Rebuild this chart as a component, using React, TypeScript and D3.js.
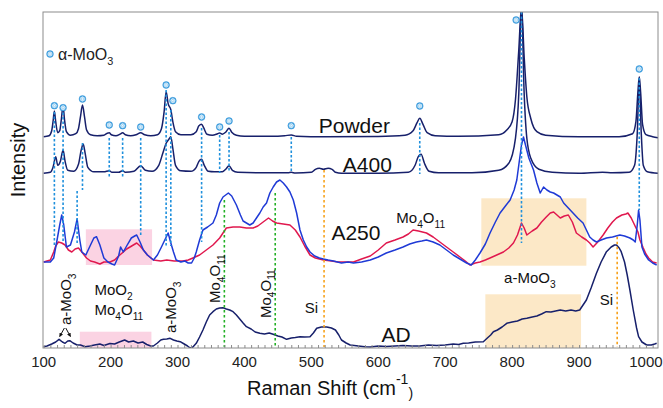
import * as d3 from 'd3';
import * as React from 'react';

// wavenumber (cm-1), intensity above each trace's own baseline (a.u.)
const powder: [number, number][] = [
  [100, 0], [108, 10], [112, 60], [114, 150], [116, 257], [118, 150], [121, 40], [124, 60], [126, 150],
  [129, 307], [131, 180], [134, 50], [140, 15], [148, 30], [152, 80], [155, 200], [158, 317], [161, 200],
  [164, 70], [170, 20], [180, 10], [190, 15], [195, 35], [198, 40], [201, 20], [208, 10], [214, 25],
  [218, 40], [222, 20], [230, 10], [238, 20], [245, 40], [251, 20], [260, 10], [270, 20], [276, 80],
  [280, 250], [283, 450], [286, 330], [290, 270], [293, 150], [297, 50], [305, 20], [320, 20], [328, 50],
  [332, 110], [336, 124], [339, 90], [344, 25], [352, 15], [360, 30], [363, 37], [367, 25], [372, 45],
  [377, 84], [381, 45], [388, 15], [400, 5], [440, 5], [460, 10], [470, 17], [478, 5], [520, 0], [600, 3],
  [640, 15], [652, 60], [658, 140], [662, 184], [667, 120], [673, 40], [685, 10], [720, 5], [780, 20],
  [792, 67], [800, 150], [805, 370], [810, 870], [814, 1300], [818, 800], [822, 400], [828, 180], [837, 50],
  [850, 15], [900, 0], [960, 0], [980, 30], [985, 150], [988, 450], [990, 600], [992, 450], [995, 120],
  [1000, 20], [1010, 0], [1018, -10],
];

const a400: [number, number][] = [
  [100, 0], [110, 10], [114, 60], [118, 166], [121, 80], [125, 120], [129, 233], [132, 120], [136, 30],
  [145, 20], [152, 90], [156, 230], [159, 293], [162, 200], [166, 60], [175, 15], [190, 15], [198, 26],
  [202, 10], [212, 10], [218, 26], [222, 10], [235, 20], [245, 76], [252, 30], [262, 20], [272, 80],
  [278, 200], [283, 300], [287, 340], [290, 366], [293, 250], [297, 80], [305, 25], [320, 20], [328, 60],
  [332, 120], [336, 140], [340, 80], [346, 20], [355, 15], [363, 16], [367, 15], [372, 40], [377, 76],
  [382, 30], [390, 10], [430, 5], [465, 5], [470, 10], [476, 3], [500, 10], [506, 40], [512, 50],
  [518, 40], [525, 50], [531, 40], [536, 10], [545, 0], [600, 0], [645, 10], [655, 80], [660, 170],
  [664, 190], [669, 100], [676, 20], [690, 5], [740, 5], [780, 30], [795, 100], [805, 350], [810, 800],
  [814, 1700], [818, 800], [822, 350], [828, 150], [840, 40], [860, 10], [900, 0], [935, 10], [950, 5],
  [975, 10], [983, 80], [987, 400], [990, 930], [993, 400], [996, 80], [1002, 15], [1018, 0],
];

const a250Blue: [number, number][] = [
  [100, 0], [110, 0], [115, 40], [120, 220], [124, 370], [127, 470], [130, 370], [134, 150], [140, 170],
  [146, 300], [150, 430], [154, 220], [157, 100], [163, 70], [170, 170], [175, 240], [179, 253], [184, 170],
  [190, 40], [196, 0], [202, -20], [206, -30], [212, 60], [215, 150], [219, 100], [224, 160], [231, 240],
  [236, 260], [239, 270], [244, 200], [249, 120], [255, 70], [264, 20], [270, 70], [276, 150], [281, 220],
  [286, 290], [290, 190], [294, 100], [298, 20], [305, 0], [311, 10], [316, -10], [321, -10], [325, 40],
  [328, 100], [333, 220], [338, 320], [345, 350], [353, 390], [358, 470], [363, 590], [368, 650],
  [372, 670], [376, 690], [381, 660], [388, 570], [394, 470], [398, 410], [403, 390], [408, 370],
  [413, 390], [418, 440], [423, 490], [428, 550], [433, 590], [438, 690], [443, 750], [448, 800],
  [453, 820], [458, 790], [463, 750], [468, 700], [473, 620], [478, 490], [483, 320], [488, 220],
  [493, 150], [498, 100], [505, 60], [512, 40], [518, 30], [525, 20], [533, 10], [545, -10], [555, 0],
  [563, -10], [575, 0], [588, 20], [600, 50], [612, 90], [625, 120], [637, 150], [647, 180], [657, 200],
  [665, 210], [672, 220], [682, 200], [692, 170], [702, 120], [712, 70], [722, 30], [732, -10], [739, -30],
  [745, 20], [752, 90], [760, 180], [767, 290], [775, 400], [782, 490], [790, 560], [797, 620], [803, 720],
  [807, 820], [810, 970], [814, 1170], [817, 1250], [820, 1170], [825, 1040], [832, 920], [837, 790],
  [842, 690], [847, 750], [852, 720], [857, 700], [862, 690], [867, 670], [872, 650], [877, 590],
  [884, 540], [891, 490], [898, 440], [906, 390], [911, 320], [916, 250], [921, 220], [926, 200],
  [933, 220], [941, 240], [950, 250], [961, 270], [968, 260], [976, 240], [981, 220], [984, 200],
  [987, 370], [989, 520], [991, 420], [994, 150], [998, 80], [1004, 20], [1010, -10], [1016, -30],
];

const a250Red: [number, number][] = [
  [100, 0], [110, 20], [115, 100], [118, 160], [122, 200], [127, 190], [132, 170], [137, 120], [142, 100],
  [147, 130], [152, 140], [157, 100], [164, 40], [170, 10], [176, 0], [184, -20], [190, 0], [199, 0],
  [206, 20], [212, 60], [219, 100], [224, 130], [229, 150], [234, 170], [239, 190], [244, 160], [249, 120],
  [255, 70], [264, 20], [275, 10], [284, 20], [295, 10], [308, 10], [316, 20], [323, 40], [333, 70],
  [343, 120], [353, 170], [363, 240], [368, 290], [373, 340], [383, 350], [393, 350], [403, 340],
  [413, 340], [420, 360], [428, 400], [436, 440], [442, 410], [448, 390], [458, 380], [468, 370],
  [476, 320], [483, 250], [490, 160], [498, 70], [506, 40], [518, 20], [530, 10], [540, 0], [563, 0],
  [575, 30], [588, 60], [600, 120], [612, 190], [625, 220], [637, 250], [645, 280], [652, 320], [660, 310],
  [672, 290], [682, 250], [692, 200], [702, 150], [712, 100], [722, 50], [730, 10], [737, -30], [745, -10],
  [752, 0], [760, 20], [767, 40], [777, 70], [787, 100], [795, 140], [802, 190], [808, 270], [814, 390],
  [818, 340], [822, 270], [830, 310], [837, 340], [844, 400], [851, 450], [857, 490], [862, 500],
  [867, 470], [872, 440], [878, 460], [884, 470], [890, 400], [896, 290], [904, 250], [911, 220],
  [916, 190], [921, 150], [928, 200], [936, 270], [943, 340], [950, 400], [956, 440], [964, 470],
  [970, 480], [973, 490], [978, 440], [983, 370], [988, 300], [991, 220], [996, 140], [1000, 80],
  [1004, 40], [1010, 0], [1016, -10],
];

const ad: [number, number][] = [
  [100, 13], [105, 20], [112, 40], [118, 60], [123, 87], [128, 60], [132, 47], [136, 70], [139, 73],
  [144, 50], [150, 30], [155, 30], [162, 13], [169, 20], [176, 30], [184, 40], [190, 25], [199, 45],
  [206, 40], [213, 60], [221, 80], [227, 60], [234, 70], [241, 50], [248, 60], [254, 35], [260, 20],
  [264, 20], [270, 50], [275, 80], [279, 87], [284, 90], [289, 97], [294, 80], [299, 70], [304, 63],
  [310, 40], [315, 20], [319, 0], [323, 10], [328, 47], [333, 110], [338, 180], [343, 260], [348, 330],
  [353, 363], [358, 390], [363, 400], [368, 403], [373, 390], [378, 380], [383, 363], [388, 330],
  [393, 290], [398, 250], [403, 213], [410, 190], [416, 160], [423, 147], [430, 140], [437, 150],
  [443, 137], [450, 120], [456, 110], [463, 87], [470, 100], [476, 105], [483, 113], [490, 110],
  [498, 113], [503, 150], [508, 197], [515, 210], [523, 210], [530, 200], [536, 180], [541, 130],
  [545, 80], [552, 50], [558, 30], [570, 20], [580, 13], [588, 10], [600, 20], [612, 15], [625, 20],
  [637, 25], [650, 20], [662, 20], [675, 30], [687, 25], [700, 30], [712, 40], [720, 35], [727, 47],
  [735, 50], [745, 60], [757, 63], [763, 100], [768, 130], [772, 163], [778, 180], [785, 210], [792, 247],
  [800, 260], [808, 270], [815, 290], [822, 297], [830, 310], [837, 320], [844, 340], [851, 363],
  [858, 360], [865, 370], [872, 380], [880, 370], [888, 380], [895, 370], [901, 380], [906, 430],
  [911, 480], [918, 600], [926, 747], [933, 860], [941, 963], [948, 1010], [953, 1030], [956, 1030],
  [960, 1000], [963, 963], [968, 860], [972, 730], [976, 580], [981, 380], [986, 200], [989, 113],
  [994, 60], [1001, 30], [1008, 30], [1013, 40], [1016, 47],
];

const traces = [powder, a400, a250Red, a250Blue, ad];
const traceOffsets = [2113, 1747, 860, 860, 0];
const traceColors = ['#17206b', '#17206b', '#e0184e', '#1f3ad6', '#17206b'];

// alpha-MoO3 peak markers: [wavenumber, absolute intensity]
const markers: [number, number][] = [
  [116, 2423], [129, 2403], [158, 2490], [198, 2230], [218, 2223], [245, 2210], [283, 2630], [293, 2473],
  [336, 2310], [363, 2210], [377, 2270], [470, 2223], [662, 2420], [806, 3280], [990, 2790],
];

// dotted guide lines: [wavenumber, top, bottom]
const blueGuides: [number, number, number][] = [
  [116, 2360, 1030], [129, 2400, 1060], [158, 2050, 1580], [150, 1570, 1030], [198, 2100, 1710],
  [218, 2100, 1710], [245, 2100, 1130], [283, 2580, 1020], [290, 2380, 1020], [336, 2200, 1060],
  [363, 2130, 1750], [377, 2160, 1760], [470, 2110, 1750], [662, 2250, 1740], [814, 3360, 1050],
  [990, 2700, 1380],
];
const greenGuides: [number, number, number][] = [[370, 1480, 10], [446, 1550, 10]];
const orangeGuides: [number, number, number][] = [[519, 1780, 10], [957, 1113, 10]];

// shaded regions: [x0, x1, y0, y1]
const pinkBoxes: [number, number, number, number][] = [[163, 262, 830, 1187], [154, 261, 0, 163]];
const tanBoxes: [number, number, number, number][] = [[754, 911, 823, 1497], [760, 903, 0, 537]];

type Part = [string, string | null];
// [parts, wavenumber, intensity, rotated, font size]
const labels: [Part[], number, number, boolean, number][] = [
  [[['Powder', null]], 511, 2147, false, 21],
  [[['A400', null]], 547, 1763, false, 21],
  [[['A250', null]], 530, 1080, false, 21],
  [[['AD', null]], 605, 63, false, 21],
  [[['Mo', null], ['4', 'sub'], ['O', null], ['11', 'sub']], 627, 1247, false, 15],
  [[['a-MoO', null], ['3', 'sub']], 788, 647, false, 15],
  [[['Si', null]], 931, 430, false, 15],
  [[['Si', null]], 490, 347, false, 15],
  [[['MoO', null], ['2', 'sub']], 176, 530, false, 15],
  [[['Mo', null], ['4', 'sub'], ['O', null], ['11', 'sub']], 176, 330, false, 15],
  [[['a-MoO', null], ['3', 'sub']], 141, 230, true, 15],
  [[['a-MoO', null], ['3', 'sub']], 298, 150, true, 15],
  [[['Mo', null], ['4', 'sub'], ['O', null], ['11', 'sub']], 364, 450, true, 15],
  [[['Mo', null], ['4', 'sub'], ['O', null], ['11', 'sub']], 439, 300, true, 15],
];

// small arrows under the left a-MoO3 label: [x0, y0, x1, y1]
const arrows: [number, number, number, number][] = [[131, 200, 124, 115], [133, 200, 140, 115]];

const xTicks = [100, 200, 300, 400, 500, 600, 700, 800, 900, 1000];

const FONT = '"Liberation Sans", Arial, sans-serif';

const addParts = (t, parts: Part[], size: number) => {
  let cur = 0;
  parts.forEach(([s, kind]) => {
    const target = kind === 'sub' ? size * 0.3 : kind === 'sup' ? -size * 0.55 : 0;
    const ts = t.append('tspan').text(s).attr('dy', target - cur);
    if (kind) ts.attr('font-size', size * 0.68);
    cur = target;
  });
};

// circled asterisk marker
const drawMarker = (g, cx: number, cy: number) => {
  const m = g.append('g').attr('transform', `translate(${cx},${cy})`);
  m.append('circle').attr('r', 3.4).attr('fill', '#4aa7e3').attr('stroke', '#2f8fd4').attr('stroke-width', 0.5);
  m.append('circle').attr('r', 1.9).attr('fill', 'none').attr('stroke', '#ffffff').attr('stroke-width', 0.6);
  [[-2.4, 0, 2.4, 0], [0, -2.4, 0, 2.4], [-1.7, -1.7, 1.7, 1.7], [-1.7, 1.7, 1.7, -1.7]].forEach((d) =>
    m.append('line').attr('x1', d[0]).attr('y1', d[1]).attr('x2', d[2]).attr('y2', d[3])
      .attr('stroke', '#ffffff').attr('stroke-width', 0.55)
  );
};

const RamanChart = () => {
  const ref = React.useRef<SVGSVGElement | null>(null);

  React.useEffect(() => {
    if (!ref.current) return;
    const svg = d3.select(ref.current);
    svg.selectAll('*').remove();

    const left = 43, right = 658, top = 12, bottom = 348;
    const x = d3.scaleLinear().domain([99, 1018]).range([left, right]);
    const y = d3.scaleLinear().domain([0, 3360]).range([bottom, top]);

    const defs = svg.append('defs');
    defs.append('clipPath').attr('id', 'plot-clip')
      .append('rect').attr('x', left).attr('y', top).attr('width', right - left).attr('height', bottom - top);
    defs.append('marker').attr('id', 'arrowhead')
      .attr('viewBox', '0 0 6 6').attr('refX', 5).attr('refY', 3)
      .attr('markerWidth', 4).attr('markerHeight', 4).attr('orient', 'auto')
      .append('path').attr('d', 'M0,0 L6,3 L0,6 Z').attr('fill', '#111');

    const plot = svg.append('g').attr('clip-path', 'url(#plot-clip)');

    const box = (list, color) =>
      plot.selectAll(null).data(list).enter().append('rect')
        .attr('x', (d) => x(d[0])).attr('width', (d) => x(d[1]) - x(d[0]))
        .attr('y', (d) => y(d[3])).attr('height', (d) => y(d[2]) - y(d[3]))
        .attr('fill', color);
    box(pinkBoxes, '#fbd3e3');
    box(tanBoxes, '#fce8c7');

    const guides = (list, color, dash) =>
      plot.selectAll(null).data(list).enter().append('line')
        .attr('x1', (d) => x(d[0])).attr('x2', (d) => x(d[0]))
        .attr('y1', (d) => y(d[1])).attr('y2', (d) => y(d[2]))
        .attr('stroke', color).attr('stroke-width', 1.6).attr('stroke-dasharray', dash);

    traces.forEach((data, i) => {
      const line = d3.line<[number, number]>()
        .curve(i < 2 ? d3.curveMonotoneX : d3.curveLinear)
        .x((d) => x(d[0])).y((d) => y(d[1] + traceOffsets[i]));
      plot.append('path').attr('d', line(data)).attr('fill', 'none')
        .attr('stroke', traceColors[i]).attr('stroke-width', 1.5).attr('stroke-linejoin', 'round');
    });

    guides(greenGuides, '#22b024', '2.5,2.5');
    guides(orangeGuides, '#f7a21b', '2.5,2.5');
    guides(blueGuides, '#1f90dc', '2.5,2');

    markers.forEach((d) => drawMarker(svg, x(d[0]), y(d[1])));

    // frame
    svg.append('rect').attr('x', left).attr('y', top).attr('width', right - left).attr('height', bottom - top)
      .attr('fill', 'none').attr('stroke', '#8c8c8c').attr('stroke-width', 1);

    // x axis with inward minor ticks
    const axis = d3.axisBottom(x).tickValues(d3.range(100, 1011, 10)).tickSize(-3).tickFormat(() => '');
    const ag = svg.append('g').attr('transform', `translate(0,${bottom})`).call(axis);
    ag.select('.domain').remove();
    ag.selectAll('line').attr('stroke', '#8c8c8c');
    svg.append('g').selectAll('text').data(xTicks).enter().append('text')
      .attr('x', (d) => x(d)).attr('y', bottom + 19).attr('text-anchor', 'middle')
      .attr('font-family', FONT).attr('font-size', 15).attr('fill', '#222').text((d) => d);

    // labels
    labels.forEach(([parts, v, c, rot, size]) => {
      const t = svg.append('text').attr('font-family', FONT).attr('font-size', size).attr('fill', '#111');
      if (rot) t.attr('transform', `translate(${x(v)},${y(c)}) rotate(-90)`);
      else t.attr('x', x(v)).attr('y', y(c));
      addParts(t, parts, size);
    });

    svg.append('g').selectAll('line').data(arrows).enter().append('line')
      .attr('x1', (d) => x(d[0])).attr('y1', (d) => y(d[1])).attr('x2', (d) => x(d[2])).attr('y2', (d) => y(d[3]))
      .attr('stroke', '#111').attr('stroke-width', 1).attr('marker-end', 'url(#arrowhead)');

    // legend
    drawMarker(svg, 50, 54);
    const lt = svg.append('text').attr('x', 58).attr('y', 60).attr('font-family', FONT)
      .attr('font-size', 16).attr('fill', '#222');
    addParts(lt, [['α-MoO', null], ['3', 'sub']], 16);

    // axis titles
    const xt = svg.append('text').attr('x', 247).attr('y', 395).attr('font-family', FONT)
      .attr('font-size', 20).attr('fill', '#111');
    xt.append('tspan').text('Raman Shift (cm');
    xt.append('tspan').text('-1').attr('font-size', 14).attr('dy', -11);
    xt.append('tspan').text(')').attr('font-size', 14).attr('dy', 14);

    svg.append('text').attr('transform', 'translate(25,160) rotate(-90)').attr('text-anchor', 'middle')
      .attr('font-family', FONT).attr('font-size', 20).attr('fill', '#111').text('Intensity');
  }, []);

  return (
    <svg ref={ref} width={663} height={408}
      style={{ position: 'absolute', left: 0, top: 0, background: '#fff', display: 'block' }} />
  );
};

export default function App() {
  return <RamanChart />;
}
